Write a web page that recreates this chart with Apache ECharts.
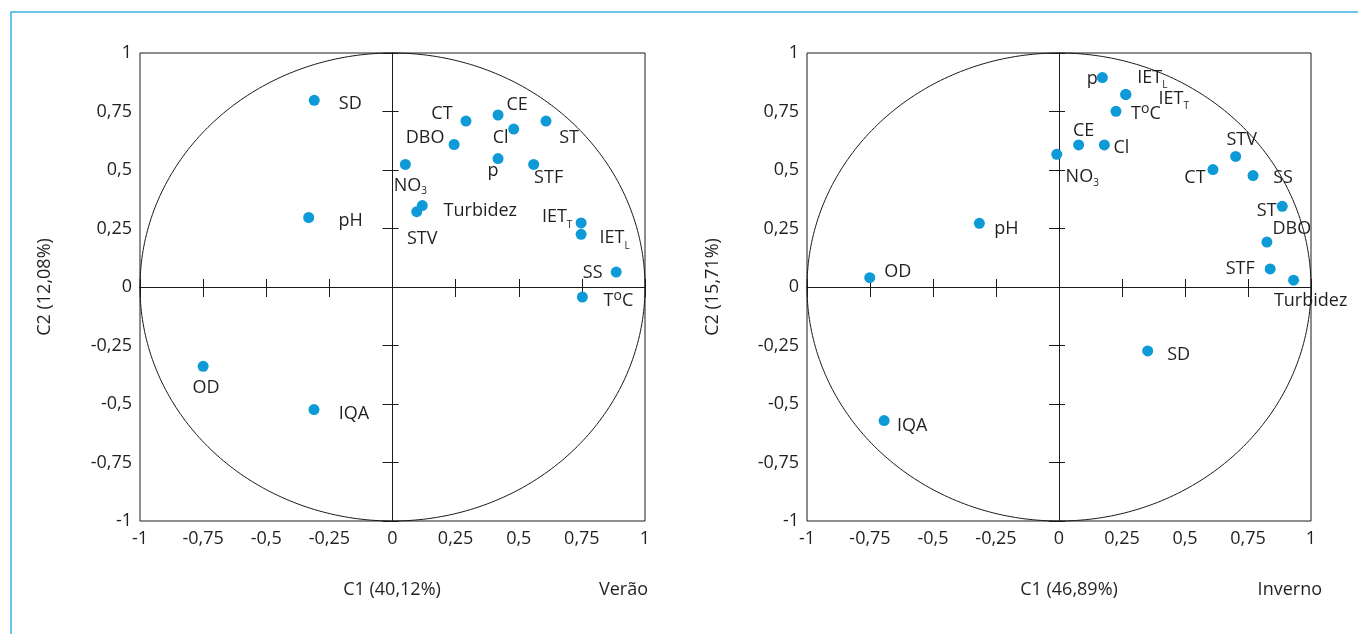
<!DOCTYPE html>
<html><head><meta charset="utf-8">
<script src="https://cdn.jsdelivr.net/npm/echarts@6/dist/echarts.min.js"></script>
<style>html,body{margin:0;padding:0;background:#fff}#c{width:1358px;height:634px}</style>
</head><body><div id="c"></div>
<script>
// ---- data ----
const tickValues = [-1, -0.75, -0.5, -0.25, 0, 0.25, 0.5, 0.75, 1];
const tickLabels = ['-1', '-0,75', '-0,5', '-0,25', '0', '0,25', '0,5', '0,75', '1'];

const summerTitle = 'Verão';
const summerAxisX = 'C1 (40,12%)';
const summerAxisY = 'C2 (12,08%)';
const summerNames = ['SD', 'pH', 'OD', 'IQA', 'CT', 'CE', 'Cl', 'ST', 'DBO', 'p', 'STF', 'NO3', 'Turbidez', 'STV', 'IET_T', 'IET_L', 'SS', 'ToC'];
const summerC1 = [-0.31, -0.332, -0.75, -0.311, 0.291, 0.418, 0.48, 0.608, 0.244, 0.418, 0.559, 0.051, 0.118, 0.096, 0.747, 0.747, 0.886, 0.752];
const summerC2 = [0.798, 0.297, -0.339, -0.524, 0.709, 0.735, 0.675, 0.709, 0.609, 0.549, 0.524, 0.524, 0.348, 0.322, 0.274, 0.225, 0.064, -0.043];

const winterTitle = 'Inverno';
const winterAxisX = 'C1 (46,89%)';
const winterAxisY = 'C2 (15,71%)';
const winterNames = ['p', 'IET_L', 'IET_T', 'ToC', 'CE', 'Cl', 'NO3', 'STV', 'CT', 'SS', 'ST', 'DBO', 'STF', 'Turbidez', 'pH', 'OD', 'SD', 'IQA'];
const winterC1 = [0.172, 0.265, 0.265, 0.226, 0.078, 0.18, -0.009, 0.701, 0.611, 0.77, 0.886, 0.825, 0.838, 0.931, -0.316, -0.751, 0.352, -0.694];
const winterC2 = [0.895, 0.823, 0.823, 0.751, 0.607, 0.607, 0.567, 0.558, 0.502, 0.476, 0.345, 0.192, 0.077, 0.029, 0.272, 0.04, -0.273, -0.571];

// ---- label placement (style, not data) ----
const summerLabelOffsets = [[36,4],[42,3],[3,21.5],[40,4.5],[-24,-7],[19,-10],[-13,9],[23,17],[-29,-6.5],[-5,12],[15,13],[5,21.5],[58,5],[5.5,27],[-24,-5.7],[33.5,4],[-23.5,0.5],[36,4]];
const winterLabelOffsets = [[-10,1],[26.5,-17],[48,4],[30,3],[5,-14],[17,2.5],[25.5,23],[6,-17],[-18,8],[30,2],[-15.6,5],[25,-12.7],[-30,0],[17,20.5],[27,6],[28,-6],[31,3.5],[28,5]];

const FONT = '"Open Sans", "Noto Sans", sans-serif';
const TXT = '#231f20';
const DOT = '#0e9ad7';

function richName(n) {
  if (n === 'NO3') return 'NO{s|3}';
  if (n === 'IET_T') return 'IET{s2|T}';
  if (n === 'IET_L') return 'IET{s2|L}';
  if (n === 'ToC') return 'T{o|o}C';
  return n;
}
const rich = {
  s: { fontSize: 10, lineHeight: 10, padding: [11, 0, 0, 0], fontFamily: FONT, color: TXT },
  s2: { fontSize: 10, lineHeight: 10, padding: [16, 0, 0, 0], fontFamily: FONT, color: TXT },
  o: { fontSize: 14, lineHeight: 14, padding: [0, 0, 10, 0], fontFamily: FONT, color: TXT }
};
function fmtTick(v) {
  const i = tickValues.findIndex(t => Math.abs(t - v) < 1e-9);
  return i >= 0 ? tickLabels[i] : '';
}

const chart = echarts.init(document.getElementById('c'));

const grids = [
  { left: 140, top: 53, width: 505, height: 468 },
  { left: 807, top: 53, width: 504, height: 468 }
];

const xAxes = [], yAxes = [];
grids.forEach((g, gi) => {
  const base = gi * 3;
  const common = { type: 'value', gridIndex: gi, min: -1, max: 1, interval: 0.25, splitLine: { show: false } };
  xAxes.push(Object.assign({}, common, {
    position: 'bottom',
    axisLine: { show: false, onZero: false }, axisTick: { show: false },
    axisLabel: { formatter: fmtTick, fontSize: 18, fontFamily: FONT, color: TXT, margin: 9 }
  }));
  xAxes.push(Object.assign({}, common, {
    position: 'bottom',
    axisLine: { show: true, onZero: true, onZeroAxisIndex: base, lineStyle: { color: '#1a1a1a', width: 1 } },
    axisTick: { show: true, inside: false, length: 10, lineStyle: { color: '#1a1a1a', width: 1 } },
    axisLabel: { show: false }
  }));
  xAxes.push(Object.assign({}, common, {
    position: 'bottom',
    axisLine: { show: true, onZero: true, onZeroAxisIndex: base, lineStyle: { color: '#1a1a1a', width: 1 } },
    axisTick: { show: true, inside: true, length: 8, lineStyle: { color: '#1a1a1a', width: 1 } },
    axisLabel: { show: false }
  }));
  yAxes.push(Object.assign({}, common, {
    position: 'left',
    axisLine: { show: false, onZero: false }, axisTick: { show: false },
    axisLabel: { formatter: fmtTick, fontSize: 18, fontFamily: FONT, color: TXT, margin: 8 }
  }));
  yAxes.push(Object.assign({}, common, {
    position: 'left',
    axisLine: { show: true, onZero: true, onZeroAxisIndex: base, lineStyle: { color: '#1a1a1a', width: 1 } },
    axisTick: { show: true, inside: false, length: 10, lineStyle: { color: '#1a1a1a', width: 1 } },
    axisLabel: { show: false }
  }));
  yAxes.push(Object.assign({}, common, {
    position: 'left',
    axisLine: { show: true, onZero: true, onZeroAxisIndex: base, lineStyle: { color: '#1a1a1a', width: 1 } },
    axisTick: { show: true, inside: true, length: 6, lineStyle: { color: '#1a1a1a', width: 1 } },
    axisLabel: { show: false }
  }));
});

function circleSeries(gi) {
  return {
    type: 'custom', xAxisIndex: gi * 3, yAxisIndex: gi * 3, data: [[0, 0]], silent: true, z: 1, clip: false,
    renderItem: function (params, api) {
      const pts = [];
      for (let i = 0; i <= 360; i++) {
        const a = i * Math.PI / 180;
        pts.push(api.coord([Math.cos(a), Math.sin(a)]));
      }
      return { type: 'polyline', shape: { points: pts }, style: { stroke: '#1a1a1a', fill: null, lineWidth: 1 } };
    }
  };
}

function scatterSeries(gi, names, xs, ys, offsets) {
  return {
    type: 'scatter', xAxisIndex: gi * 3, yAxisIndex: gi * 3, z: 5, clip: false,
    symbolSize: 11, itemStyle: { color: DOT, opacity: 1 },
    data: names.map((n, i) => ({
      name: n, value: [xs[i], ys[i]],
      label: { offset: offsets[i] }
    })),
    label: {
      show: true, position: 'inside', color: TXT, fontSize: 18, fontFamily: FONT,
      textBorderWidth: 0, formatter: p => richName(p.name), rich: rich
    },
    emphasis: { disabled: true }
  };
}

const textStyle = (t, extra) => Object.assign({ text: t, font: '18px ' + FONT, fill: TXT, textAlign: 'center', align: 'center', textVerticalAlign: 'middle', verticalAlign: 'middle' }, extra || {});

chart.setOption({
  animation: false,
  backgroundColor: '#fff',
  grid: grids.map(g => Object.assign({ show: true, borderColor: '#1a1a1a', borderWidth: 1, backgroundColor: 'transparent', outerBoundsMode: 'none', containLabel: false }, g)),
  xAxis: xAxes,
  yAxis: yAxes,
  series: [
    circleSeries(0), circleSeries(1),
    scatterSeries(0, summerNames, summerC1, summerC2, summerLabelOffsets),
    scatterSeries(1, winterNames, winterC1, winterC2, winterLabelOffsets)
  ],
  graphic: [
    { type: 'rect', shape: { x: 11, y: 12, width: 1500, height: 800 }, style: { stroke: '#3ab3e1', fill: null, lineWidth: 1.5 }, silent: true },
    { type: 'text', x: 392, y: 590, style: textStyle(summerAxisX) },
    { type: 'text', x: 648, y: 590, style: textStyle(summerTitle, { textAlign: 'right', align: 'right' }) },
    { type: 'text', x: 1069, y: 590, style: textStyle(winterAxisX) },
    { type: 'text', x: 1322, y: 590, style: textStyle(winterTitle, { textAlign: 'right', align: 'right' }) },
    { type: 'text', x: 45, y: 287, rotation: Math.PI / 2, style: textStyle(summerAxisY) },
    { type: 'text', x: 713, y: 287, rotation: Math.PI / 2, style: textStyle(winterAxisY) }
  ]
});
</script>
</body></html>
